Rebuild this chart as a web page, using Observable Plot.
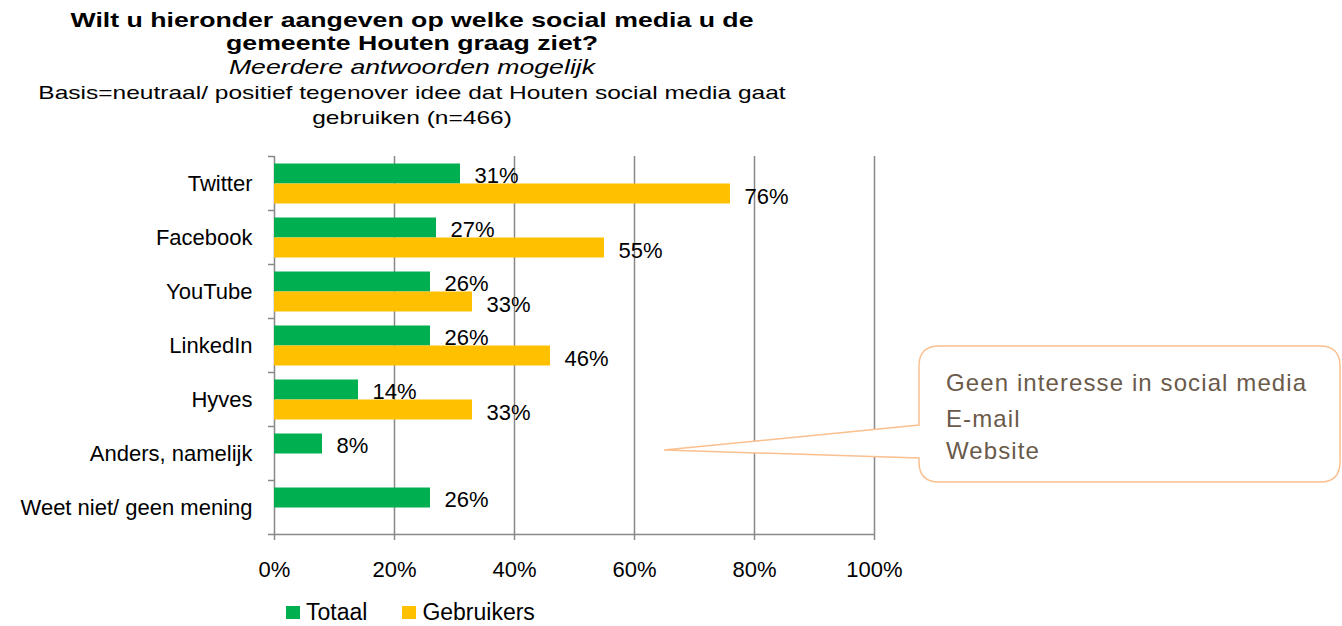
<!DOCTYPE html>
<html>
<head>
<meta charset="utf-8">
<script src="https://cdn.jsdelivr.net/npm/d3@7"></script>
<script src="https://cdn.jsdelivr.net/npm/@observablehq/plot@0.6"></script>
<style>
  html, body { margin: 0; padding: 0; background: #fff; }
  body { width: 1342px; height: 626px; position: relative; overflow: hidden; font-family: "Liberation Sans", Arial, sans-serif; color: #000; }
  .t { position: absolute; left: 0; width: 824px; text-align: center; white-space: nowrap; transform-origin: 412px 0; }
  #chart { position: absolute; left: 0; top: 140px; }
  #legend { position: absolute; left: 286px; top: 598px; font-size: 23px; line-height: 28px; display: flex; align-items: center; }
  #legend .sw { display: inline-block; width: 14px; height: 13px; margin-right: 6px; }
  #legend .item { display: flex; align-items: center; margin-right: 35px; }
</style>
</head>
<body>
<div class="t" style="top:8px;font-size:21px;font-weight:bold;line-height:23px;transform:scaleX(1.27);">Wilt u hieronder aangeven op welke social media u de<br>gemeente Houten graag ziet?</div>
<div class="t" style="top:55px;font-size:21px;font-style:italic;line-height:24px;transform:scaleX(1.27);">Meerdere antwoorden mogelijk</div>
<div class="t" style="top:80px;font-size:19px;line-height:25px;transform:scaleX(1.29);">Basis=neutraal/ positief tegenover idee dat Houten social media gaat<br>gebruiken (n=466)</div>
<div id="chart"></div>
<div id="legend"></div>
<script>
const categories = ["Twitter", "Facebook", "YouTube", "LinkedIn", "Hyves", "Anders, namelijk", "Weet niet/ geen mening"];
const totaal = [31, 27, 26, 26, 14, 8, 26];
const gebruikers = [76, 55, 33, 46, 33, null, null];
const seriesNames = ["Totaal", "Gebruikers"];
const seriesColors = ["#00b050", "#ffc000"];
const xTicks = [0, 20, 40, 60, 80, 100];
const calloutLines = ["Geen interesse in social media", "E-mail", "Website"];

const rowsT = categories.map((c, i) => ({cat: c, value: totaal[i]}));
const rowsG = categories.map((c, i) => ({cat: c, value: gebruikers[i]})).filter(d => d.value != null);

const grid = "#888888";
const plot = Plot.plot({
  width: 1342,
  height: 444,
  marginLeft: 274,
  marginRight: 468,
  marginTop: 16,
  marginBottom: 50,
  style: {fontFamily: "Liberation Sans, Arial, sans-serif", fontSize: "22px", color: "#000", background: "transparent"},
  x: {domain: [0, 100], ticks: xTicks, tickFormat: d => d + "%", label: null},
  y: {domain: categories, padding: 0, label: null},
  marks: [
    Plot.ruleX(xTicks.filter(d => d > 0), {stroke: grid, strokeWidth: 1.5}),
    Plot.ruleX([0], {stroke: grid, strokeWidth: 1.5}),
    Plot.ruleY(categories, {y: d => d, x1: -1, x2: 0, dy: -27, stroke: grid, strokeWidth: 1.5}),
    Plot.ruleY(categories.slice(-1), {y: d => d, x1: -1, x2: 100, dy: 27, stroke: grid, strokeWidth: 1.5}),
    Plot.axisX({ticks: xTicks, tickFormat: d => d + "%", tickSize: 6, stroke: grid, tickPadding: 21, fontSize: 22, label: null, strokeWidth: 1.5}),
    Plot.axisY({tickSize: 0, tickPadding: 22, fontSize: 22, label: null}),
    Plot.barX(rowsT, {y: "cat", x: "value", fill: seriesColors[0], insetTop: 7.5, insetBottom: 26.5}),
    Plot.barX(rowsG, {y: "cat", x: "value", fill: seriesColors[1], insetTop: 27.5, insetBottom: 6.5}),
    Plot.text(rowsT, {y: "cat", x: "value", text: d => d.value + "%", dx: 14, dy: -8, textAnchor: "start", fill: "#000", fontSize: 22}),
    Plot.text(rowsG, {y: "cat", x: "value", text: d => d.value + "%", dx: 14, dy: 13, textAnchor: "start", fill: "#000", fontSize: 22})
  ]
});
document.getElementById("chart").appendChild(plot);

const legend = document.getElementById("legend");
seriesNames.forEach((s, i) => {
  const item = document.createElement("span");
  item.className = "item";
  const sw = document.createElement("span");
  sw.className = "sw";
  sw.style.background = seriesColors[i];
  item.appendChild(sw);
  item.appendChild(document.createTextNode(s));
  legend.appendChild(item);
});

// Callout annotation
const svg = d3.create("svg").attr("width", 1342).attr("height", 626)
  .style("position", "absolute").style("left", "0px").style("top", "0px");
svg.append("path")
  .attr("d", "M939,346 H1320 Q1340,346 1340,366 V462 Q1340,482 1320,482 H939 Q919,482 919,462 V458 L664,450 L919,425 V366 Q919,346 939,346 Z")
  .attr("fill", "#fff").attr("stroke", "#fac090").attr("stroke-width", 1.5);
const ys = [391, 427, 459];
calloutLines.forEach((t, i) => {
  svg.append("text").attr("x", 946).attr("y", ys[i]).attr("fill", "#6a5a4a")
    .attr("font-size", 24).attr("letter-spacing", 1.1)
    .attr("font-family", "Liberation Sans, Arial, sans-serif").text(t);
});
document.body.appendChild(svg.node());
</script>
</body>
</html>
